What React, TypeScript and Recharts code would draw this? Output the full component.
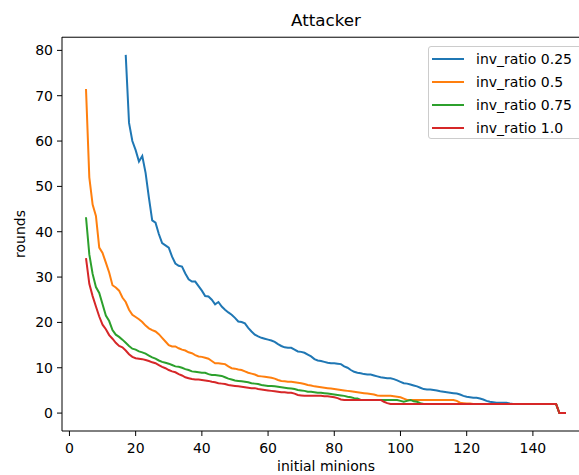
import { Line, LineChart, ReferenceLine, XAxis, YAxis } from "recharts";

// initial minions 5..150, one value per integer step
const minions = Array.from({ length: 146 }, (_, i) => i + 5);

const ratio025 = [
  null, null, null, null, null, null, null, null, null, null,
  null, null, 79, 64, 60, 58, 55.5, 56.7, 53, 47.5,
  42.5, 42, 39.5, 37.5, 37, 36.5, 34.5, 33, 32.5, 32.3,
  30.8, 29.5, 29, 29, 28, 27, 25.8, 25.7, 25, 24,
  24.5, 23.5, 22.8, 22.2, 21.7, 21, 20.2, 20.1, 19.8, 18.8,
  18, 17.3, 16.9, 16.6, 16.4, 16.2, 16, 15.7, 15.2, 14.8,
  14.5, 14.4, 14.4, 14, 13.6, 13.5, 13.3, 12.9, 12.5, 11.9,
  11.6, 11.5, 11.3, 11.1, 11, 11, 10.9, 10.8, 10.3, 10,
  9.5, 9.1, 8.9, 8.8, 8.6, 8.5, 8.5, 8.3, 8.1, 7.9,
  7.8, 7.7, 7.7, 7.5, 7.2, 6.9, 6.6, 6.5, 6.3, 6.1,
  5.9, 5.6, 5.3, 5.2, 5.2, 5.1, 5, 4.8, 4.7, 4.6,
  4.5, 4.4, 4.3, 4.1, 3.8, 3.6, 3.5, 3.4, 3.4, 3.2,
  3, 2.7, 2.5, 2.4, 2.3, 2.3, 2.3, 2.3, 2.1, 2,
  2, 2, 2, 2, 2, 2, 2, 2, 2, 2,
  2, 2, 2, 0, 0, 0,
];

const ratio05 = [
  71.5, 52, 46, 43.5, 36.5, 35.3, 33.2, 31, 28.2, 27.7,
  27, 25.5, 24.5, 22.8, 21.7, 21.2, 20.7, 20.1, 19.3, 18.7,
  18.3, 18, 17.4, 16.6, 15.8, 15, 14.7, 14.7, 14.3, 14,
  13.8, 13.4, 13.2, 12.8, 12.5, 12.4, 12.2, 12, 11.5, 11,
  11, 10.9, 10.8, 10.3, 9.9, 9.8, 9.6, 9.5, 9.2, 8.9,
  8.7, 8.5, 8.2, 8.1, 8, 7.9, 7.8, 7.6, 7.3, 7.1,
  7, 6.9, 6.9, 6.8, 6.7, 6.6, 6.4, 6.2, 6.1, 5.9,
  5.8, 5.7, 5.6, 5.5, 5.4, 5.3, 5.2, 5.1, 5, 4.9,
  4.8, 4.7, 4.6, 4.5, 4.4, 4.3, 4.2, 4.1, 3.9, 3.8,
  3.8, 3.8, 3.8, 3.7, 3.6, 3.5, 3.2, 2.9, 2.9, 2.9,
  2.9, 2.9, 2.9, 2.9, 2.9, 2.9, 2.9, 2.9, 2.9, 2.9,
  2.9, 2.9, 2.7, 2.3, 2.2, 2.1, 2.1, 2, 2, 2,
  2, 2, 2, 2, 2, 2, 2, 2, 2, 2,
  2, 2, 2, 2, 2, 2, 2, 2, 2, 2,
  2, 2, 2, 0, 0, 0,
];

const ratio075 = [
  43.2, 35, 30.7, 27.8, 26.5, 24, 21.5, 20.3, 18.3, 17.3,
  16.8, 16.2, 15.5, 14.8, 14.2, 14, 13.6, 13.4, 13.1, 12.7,
  12.3, 12, 11.6, 11.3, 11.1, 10.9, 10.6, 10.3, 10.2, 10,
  9.7, 9.5, 9.2, 9.1, 9, 8.9, 8.9, 8.6, 8.4, 8.4,
  8.3, 8.2, 7.9, 7.6, 7.4, 7.2, 7.1, 7, 6.9, 6.8,
  6.6, 6.5, 6.4, 6.2, 6.1, 6, 6, 5.9, 5.8, 5.7,
  5.6, 5.5, 5.4, 5.3, 5.1, 5, 4.9, 4.7, 4.7, 4.6,
  4.5, 4.5, 4.4, 4.3, 4.2, 4.1, 4, 3.9, 3.8, 3.6,
  3.5, 3.3, 3.2, 2.9, 2.9, 2.9, 2.9, 2.9, 2.9, 2.9,
  2.9, 2.9, 2.9, 2.9, 2.9, 2.7, 2.5, 2.7, 2.9, 2.6,
  2.5, 2.2, 2, 2, 2, 2, 2, 2, 2, 2,
  2, 2, 2, 2, 2, 2, 2, 2, 2, 2,
  2, 2, 2, 2, 2, 2, 2, 2, 2, 2,
  2, 2, 2, 2, 2, 2, 2, 2, 2, 2,
  2, 2, 2, 0, 0, 0,
];

const ratio10 = [
  34.2, 28.5, 25.8, 23.5, 21.3, 19.5, 18.5, 17.2, 16.4, 15.5,
  14.8, 14.5, 13.8, 13, 12.4, 12.1, 12, 11.9, 11.7, 11.5,
  11.2, 11, 10.6, 10.2, 9.9, 9.5, 9.2, 9, 8.6, 8.3,
  7.9, 7.7, 7.5, 7.4, 7.4, 7.3, 7.2, 7.1, 6.9, 6.8,
  6.6, 6.5, 6.4, 6.2, 6.1, 6, 5.9, 5.8, 5.7, 5.6,
  5.5, 5.5, 5.3, 5.2, 5.1, 5, 4.9, 4.8, 4.7, 4.6,
  4.6, 4.5, 4.5, 4.3, 4, 3.9, 3.8, 3.8, 3.8, 3.8,
  3.8, 3.8, 3.7, 3.7, 3.6, 3.5, 3.3, 3, 2.9, 2.9,
  2.9, 2.9, 2.9, 2.9, 2.9, 2.9, 2.9, 2.9, 2.9, 2.9,
  2.5, 2.2, 2, 2, 2, 2, 2, 2, 2, 2,
  2, 2, 2, 2, 2, 2, 2, 2, 2, 2,
  2, 2, 2, 2, 2, 2, 2, 2, 2, 2,
  2, 2, 2, 2, 2, 2, 2, 2, 2, 2,
  2, 2, 2, 2, 2, 2, 2, 2, 2, 2,
  2, 2, 2, 0, 0, 0,
];

const xTicks = [0, 20, 40, 60, 80, 100, 120, 140];
const yTicks = [0, 10, 20, 30, 40, 50, 60, 70, 80];
const xDomain: [number, number] = [-2.25, 157.25];
const yDomain: [number, number] = [-3.95, 82.95];

const series = [
  { key: "r025", name: "inv_ratio 0.25", color: "#1f77b4", values: ratio025 },
  { key: "r05", name: "inv_ratio 0.5", color: "#ff7f0e", values: ratio05 },
  { key: "r075", name: "inv_ratio 0.75", color: "#2ca02c", values: ratio075 },
  { key: "r10", name: "inv_ratio 1.0", color: "#d62728", values: ratio10 },
];

const data = minions.map((m, i) => {
  const row: Record<string, number | null> = { m };
  series.forEach((s) => {
    row[s.key] = s.values[i];
  });
  return row;
});

const FONT = "'DejaVu Sans', sans-serif";
const tickStyle = { fill: "#000", fontSize: 14, fontFamily: FONT };

export default function App() {
  return (
    <div
      style={{
        position: "absolute",
        left: 0,
        top: 0,
        width: 579,
        height: 475,
        overflow: "hidden",
        background: "#fff",
        fontFamily: FONT,
        color: "#000",
      }}
    >
      <LineChart
        width={600}
        height={475}
        data={data}
        margin={{ top: 37, right: 10, bottom: 0, left: 0 }}
      >
        <XAxis
          dataKey="m"
          type="number"
          domain={xDomain}
          ticks={xTicks}
          interval={0}
          allowDataOverflow
          height={44}
          tickSize={5}
          tickMargin={7}
          axisLine={{ stroke: "#000", strokeWidth: 1 }}
          tickLine={{ stroke: "#000" }}
          tick={tickStyle}
        />
        <YAxis
          type="number"
          domain={yDomain}
          ticks={yTicks}
          interval={0}
          allowDataOverflow
          width={62}
          tickSize={5}
          tickMargin={4}
          axisLine={{ stroke: "#000", strokeWidth: 1 }}
          tickLine={{ stroke: "#000" }}
          tick={tickStyle}
        />
        {/* top spine of the axes box */}
        <ReferenceLine y={82.9} stroke="#000" strokeWidth={1} ifOverflow="visible" />
        {series.map((s) => (
          <Line
            key={s.key}
            type="linear"
            dataKey={s.key}
            name={s.name}
            stroke={s.color}
            strokeWidth={2}
            dot={false}
            activeDot={false}
            isAnimationActive={false}
          />
        ))}
      </LineChart>

      <div
        style={{
          position: "absolute",
          left: 226,
          width: 200,
          top: 10,
          lineHeight: "20px",
          fontSize: 16.7,
          textAlign: "center",
        }}
      >
        Attacker
      </div>
      <div
        style={{
          position: "absolute",
          left: 226,
          width: 200,
          top: 458,
          lineHeight: "16px",
          fontSize: 14,
          textAlign: "center",
        }}
      >
        initial minions
      </div>
      <div
        style={{
          position: "absolute",
          left: 20,
          top: 234,
          fontSize: 14,
          lineHeight: "16px",
          whiteSpace: "nowrap",
          transform: "translate(-50%, -50%) rotate(-90deg)",
        }}
      >
        rounds
      </div>

      <div
        style={{
          position: "absolute",
          left: 428,
          top: 46,
          width: 160,
          height: 93,
          boxSizing: "border-box",
          border: "1px solid #cccccc",
          borderRadius: 3,
          background: "rgba(255,255,255,0.8)",
        }}
      >
        {series.map((s) => (
          <div
            key={s.key}
            style={{ display: "flex", alignItems: "center", height: 23.2 }}
          >
            <div style={{ marginLeft: 3, width: 32, height: 2, background: s.color }} />
            <div style={{ marginLeft: 12, fontSize: 14, whiteSpace: "nowrap" }}>{s.name}</div>
          </div>
        ))}
      </div>
    </div>
  );
}
